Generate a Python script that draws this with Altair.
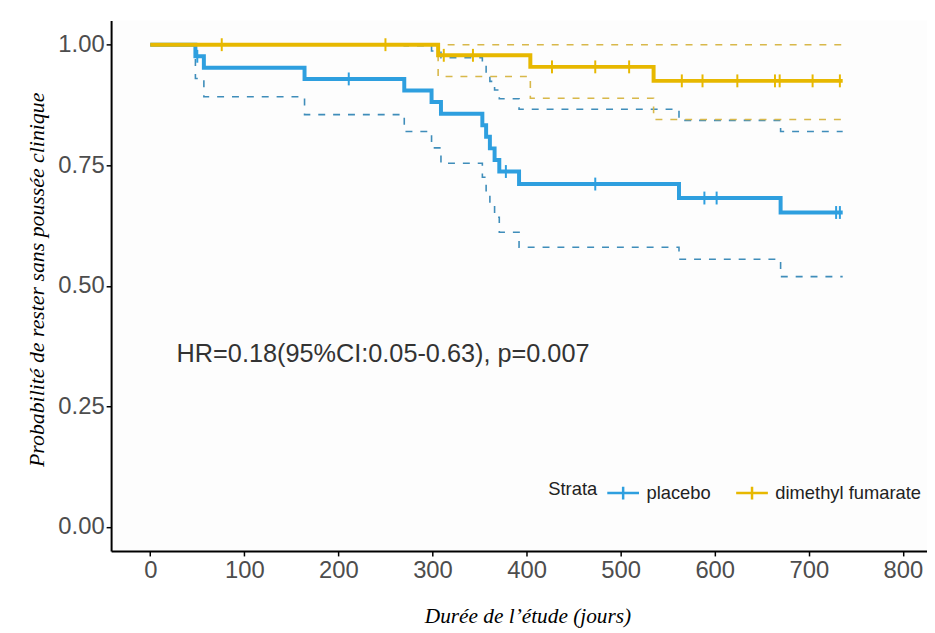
import altair as alt
import pandas as pd

strata = ["placebo", "dimethyl fumarate"]
colors = ["#2E9FDF", "#E7B800"]
ci_colors = ["#3F8DBA", "#D8B84A"]

# Kaplan-Meier steps (time in days, survival probability)
pl_time = [0, 48, 57, 164, 270, 299, 309, 353, 357, 361, 366, 371, 392, 562, 670, 736]
pl_surv = [1.0, 0.976, 0.952, 0.929, 0.905, 0.881, 0.857, 0.833, 0.809, 0.785, 0.761, 0.737, 0.711, 0.682, 0.652, 0.652]
pl_lower = [1.0, 0.93, 0.892, 0.855, 0.82, 0.786, 0.754, 0.725, 0.697, 0.67, 0.642, 0.611, 0.58, 0.555, 0.519, 0.519]
pl_upper = [1.0, 1.0, 1.0, 1.0, 0.998, 0.987, 0.973, 0.957, 0.941, 0.924, 0.906, 0.888, 0.866, 0.843, 0.82, 0.82]

dmf_time = [0, 306, 404, 535, 736]
dmf_surv = [1.0, 0.978, 0.954, 0.925, 0.925]
dmf_lower = [1.0, 0.934, 0.889, 0.845, 0.845]
dmf_upper = [1.0, 1.0, 1.0, 1.0, 1.0]

# censoring marks
pl_cens_t = [50, 211, 378, 473, 589, 602, 729, 733]
pl_cens_s = [0.976, 0.929, 0.737, 0.711, 0.682, 0.682, 0.652, 0.652]
dmf_cens_t = [76, 250, 312, 343, 427, 473, 509, 565, 587, 624, 664, 669, 704, 733]
dmf_cens_s = [1.0, 1.0, 0.978, 0.978, 0.954, 0.954, 0.954, 0.925, 0.925, 0.925, 0.925, 0.925, 0.925, 0.925]

x_ticks = [0, 100, 200, 300, 400, 500, 600, 700, 800]
y_ticks = [0.0, 0.25, 0.5, 0.75, 1.0]
annotation = "HR=0.18(95%CI:0.05-0.63), p=0.007"

main_pl = pd.DataFrame({"time": pl_time, "surv": pl_surv, "strata": "placebo"})
main_dmf = pd.DataFrame({"time": dmf_time, "surv": dmf_surv, "strata": "dimethyl fumarate"})
ci = pd.concat([
    pd.DataFrame({"time": pl_time, "surv": pl_lower, "strata": "placebo", "band": "pl_low"}),
    pd.DataFrame({"time": pl_time, "surv": pl_upper, "strata": "placebo", "band": "pl_up"}),
    pd.DataFrame({"time": dmf_time, "surv": dmf_lower, "strata": "dimethyl fumarate", "band": "dmf_low"}),
    pd.DataFrame({"time": dmf_time, "surv": dmf_upper, "strata": "dimethyl fumarate", "band": "dmf_up"}),
], ignore_index=True)
cens = pd.concat([
    pd.DataFrame({"time": pl_cens_t, "surv": pl_cens_s, "strata": "placebo"}),
    pd.DataFrame({"time": dmf_cens_t, "surv": dmf_cens_s, "strata": "dimethyl fumarate"}),
], ignore_index=True)
ann = pd.DataFrame({"time": [28], "surv": [0.358], "label": [annotation]})

x_scale = alt.Scale(domain=[-41.6, 825.6], nice=False, zero=False)
y_scale = alt.Scale(domain=[-0.05, 1.05], nice=False, zero=False)
color_scale = alt.Scale(domain=strata, range=colors)
ci_scale = alt.Scale(domain=strata, range=ci_colors)

x_axis = alt.Axis(
    values=x_ticks, title="Durée de l’étude (jours)", grid=False,
    domainColor="black", domainWidth=2, tickColor="black", tickWidth=1.5, tickSize=5,
    labelFont="Liberation Sans", labelFontSize=24, labelColor="#4D4D4D", labelPadding=3,
    titleFont="Liberation Serif", titleFontStyle="italic", titleFontWeight="normal",
    titleFontSize=21.5, titleColor="black", titleX=420, titleY=72, titleBaseline="alphabetic",
)
y_axis = alt.Axis(
    values=y_ticks, format=".2f", title="Probabilité de rester sans poussée clinique", grid=False,
    domainColor="black", domainWidth=2, tickColor="black", tickWidth=1.5, tickSize=5,
    labelFont="Liberation Sans", labelFontSize=24, labelColor="#4D4D4D", labelPadding=2,
    titleFont="Liberation Serif", titleFontStyle="italic", titleFontWeight="normal",
    titleFontSize=22, titleColor="black", titleX=-75, titleY=261, titleAngle=-90,
    titleBaseline="middle", titleAlign="center",
)

legend = alt.Legend(
    title="Strata", orient="none", legendX=441, legendY=459, direction="horizontal",
    titleOrient="left", titleAnchor="middle", titleBaseline="middle",
    titleFont="Liberation Sans", titleFontSize=18.5, titleFontWeight="normal",
    titleColor="#222222", labelFont="Liberation Sans", labelFontSize=18.5, labelColor="#222222",
    symbolType="M-1,0L1,0M0,-0.4L0,0.4", symbolSize=1024, symbolStrokeWidth=2.5,
    columnPadding=20, titlePadding=8, labelOffset=6,
)

ci_layer = alt.Chart(ci).mark_line(interpolate="step-after", strokeWidth=1.6, strokeDash=[7, 8]).encode(
    x=alt.X("time:Q", scale=x_scale, axis=x_axis),
    y=alt.Y("surv:Q", scale=y_scale, axis=y_axis),
    stroke=alt.Stroke("strata:N", scale=ci_scale, legend=None),
    detail="band:N",
    order="time:Q",
)

def main_layer(df):
    return alt.Chart(df).mark_line(interpolate="step-after", strokeWidth=4).encode(
        x=alt.X("time:Q", scale=x_scale),
        y=alt.Y("surv:Q", scale=y_scale),
        color=alt.Color("strata:N", scale=color_scale, legend=legend, sort=strata),
        order="time:Q",
    )

cens_layer = alt.Chart(cens).mark_point(shape="M0,-1L0,1", size=169, strokeWidth=2, filled=False, opacity=1).encode(
    x=alt.X("time:Q", scale=x_scale),
    y=alt.Y("surv:Q", scale=y_scale),
    color=alt.Color("strata:N", scale=color_scale, legend=legend, sort=strata),
)

text_layer = alt.Chart(ann).mark_text(
    align="left", baseline="middle", font="Liberation Sans", fontSize=25.5, color="#333333"
).encode(
    x=alt.X("time:Q", scale=x_scale),
    y=alt.Y("surv:Q", scale=y_scale),
    text="label:N",
)

chart = alt.layer(ci_layer, main_layer(main_pl), main_layer(main_dmf), cens_layer, text_layer).resolve_scale(
    color="shared", stroke="independent"
).properties(
    width=823, height=535,
    autosize=alt.AutoSizeParams(type="none"),
    padding={"left": 104, "top": 10, "right": 0, "bottom": 76},
    background="white",
).configure_view(stroke=None, fill="#FDFDFD")

chart.save("out.html", embed_options={"renderer": "svg", "actions": False})
